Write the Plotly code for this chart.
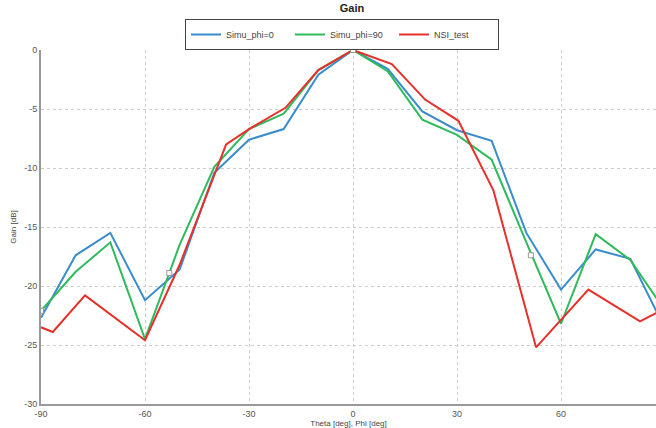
import plotly.graph_objects as go

theta_sim = [-90, -80, -70, -60, -50, -40, -30, -20, -10, 0, 10, 20, 30, 40, 50, 60, 70, 80, 90]
simu_phi0 = [-22.7, -17.4, -15.5, -21.2, -18.6, -10.4, -7.6, -6.7, -2.1, 0, -1.6, -5.2, -6.8, -7.7, -15.5, -20.3, -16.9, -17.7, -23.6]
simu_phi90 = [-22.1, -18.8, -16.3, -24.5, -16.5, -9.9, -6.7, -5.4, -1.7, 0, -1.8, -5.9, -7.2, -9.3, -16.3, -23.2, -15.6, -17.8, -22.1]

theta_test = [-90, -86.6, -77.3, -60, -50, -36.6, -30, -19.5, -10, 0, 11.2, 20.8, 30.4, 40.5, 52.8, 67.9, 82.8, 90]
nsi_test = [-23.5, -23.9, -20.8, -24.6, -18.2, -8.0, -6.7, -4.9, -1.7, 0, -1.2, -4.2, -6.0, -11.9, -25.2, -20.3, -23.0, -21.9]

marker_theta = [-90, -53, 0, 51.3]
marker_gain = [-22.1, -18.9, 0, -17.4]

x_ticks = [-90, -60, -30, 0, 30, 60]
y_ticks = [0, -5, -10, -15, -20, -25, -30]

fig = go.Figure()
fig.add_trace(go.Scatter(x=theta_sim, y=simu_phi0, mode="lines", name="Simu_phi=0",
                         line=dict(color="#3A8CCB", width=2)))
fig.add_trace(go.Scatter(x=theta_sim, y=simu_phi90, mode="lines", name="Simu_phi=90",
                         line=dict(color="#2FBA5C", width=2)))
fig.add_trace(go.Scatter(x=theta_test, y=nsi_test, mode="lines", name="NSI_test",
                         line=dict(color="#E6302B", width=2)))
fig.add_trace(go.Scatter(x=marker_theta, y=marker_gain, mode="markers", showlegend=False,
                         marker=dict(symbol="square", size=5, color="white",
                                     line=dict(color="#999999", width=1))))

fig.update_layout(
    width=656, height=428,
    margin=dict(l=41, r=0, t=50, b=24, autoexpand=False),
    paper_bgcolor="white", plot_bgcolor="white",
    font=dict(family="Liberation Sans, Arial, sans-serif", size=9, color="#555555"),
    title=dict(text="<b>Gain</b>", x=352/656, xanchor="center", xref="container",
               y=1 - 8/428, yanchor="middle", yref="container",
               font=dict(size=11, color="#222222")),
    legend=dict(orientation="h", x=342/656, xanchor="center", xref="container",
                y=1 - 19/428, yanchor="top", yref="container",
                bordercolor="#444444", borderwidth=1, bgcolor="white",
                font=dict(size=9, color="#444444"), itemwidth=30,
                entrywidth=59, entrywidthmode="pixels",
                tracegroupgap=0),
    showlegend=True,
)
fig.update_xaxes(range=[-90, 87.4], tickvals=x_ticks, ticktext=[str(v) for v in x_ticks],
                 showgrid=True, gridcolor="#CCCCCC", griddash="dot", gridwidth=1,
                 showline=True, linecolor="#999999", linewidth=2, mirror=False,
                 zeroline=False, ticks="", ticklen=0, automargin=False,
                 title=dict(text="Theta [deg], Phi [deg]", font=dict(size=8, color="#444444"), standoff=0),
                 tickfont=dict(size=9, color="#555555"))
fig.update_yaxes(range=[-30, 0], tickvals=y_ticks, ticktext=[str(v) for v in y_ticks],
                 showgrid=True, gridcolor="#CCCCCC", griddash="dot", gridwidth=1,
                 showline=True, linecolor="#999999", linewidth=2, mirror=True,
                 zeroline=False, ticks="", ticklen=0, automargin=False,
                 title=dict(text="Gain [dB]", font=dict(size=8, color="#444444"), standoff=6),
                 tickfont=dict(size=9, color="#555555"))

fig.write_html("out.html", config={"displayModeBar": False},
               post_script="document.body.style.margin='0px';")
